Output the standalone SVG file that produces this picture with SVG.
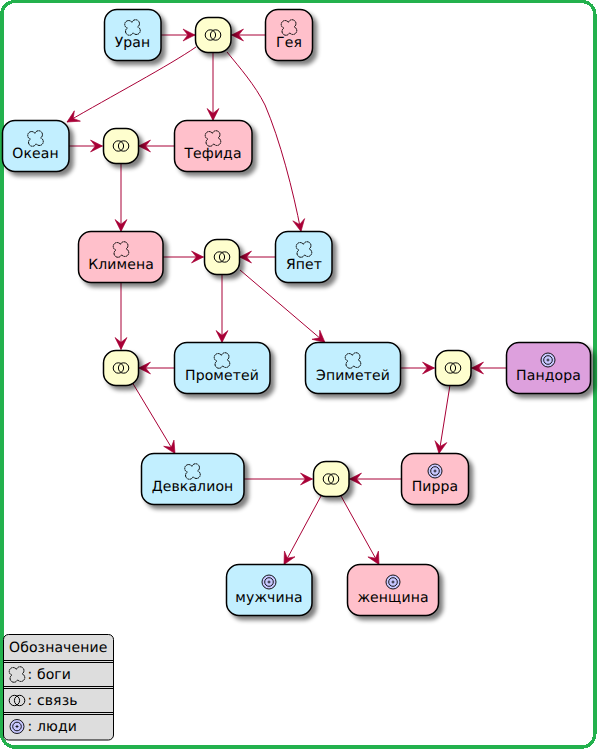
<svg xmlns="http://www.w3.org/2000/svg" width="598" height="749" viewBox="0 0 598 749">
<style>
text{font-family:"DejaVu Sans",sans-serif;font-size:14px;fill:#000;text-rendering:geometricPrecision;letter-spacing:.12px}
.n{stroke:#000;stroke-width:1.5;filter:url(#sh)}
.blue{fill:#C2EFFF}.pink{fill:#FFC0CB}.yel{fill:#FEFECE}.pur{fill:#DDA0DD}
.c path{fill:none;stroke:#A80036;stroke-width:1;marker-end:url(#ah)}
.i{fill:none;stroke:#000;stroke-width:1}
.lg{stroke:#000;stroke-width:1;fill:none}
</style>
<defs>
<filter id="sh" x="-20%" y="-20%" width="150%" height="150%"><feGaussianBlur in="SourceAlpha" stdDeviation="2"/><feOffset dx="4" dy="4"/><feComponentTransfer><feFuncA type="linear" slope="0.5"/></feComponentTransfer><feMerge><feMergeNode/><feMergeNode in="SourceGraphic"/></feMerge></filter>
<marker id="ah" markerUnits="userSpaceOnUse" markerWidth="12" markerHeight="12" refX="10" refY="5" orient="auto" viewBox="0 0 10 10" overflow="visible"><path d="M0 0L10 5L0 10L4 5Z" fill="#A80036" stroke="#A80036" stroke-width=".5"/></marker>
<g id="cloud"><path class="i" stroke-width=".9" stroke-dasharray="1.800 .4" d="M-.600-5.200A3.900 3.900 0 1 1 5.200-.600A3.900 3.900 0 1 1 .600 5.200A3.900 3.900 0 1 1-5.200 .600A3.900 3.900 0 1 1-.600-5.200Z"/></g>
<g id="rings"><circle class="i" cx="-2.600" r="5.200"/><circle class="i" cx="2.600" r="5.200"/></g>
<g id="target"><circle cx="0" cy="0" r="7" fill="#C8C8FF" stroke="#000" stroke-width=".9"/><circle cx="0" cy="0" r="4.300" fill="none" stroke="#000" stroke-width=".9"/><path d="M-1.500 0H1.500M0-1.500V1.500" stroke="#000" stroke-width=".8"/></g>
</defs>
<rect x="1.800" y="1.500" width="593" height="745.500" rx="13" fill="#fff" stroke="#23B14D" stroke-width="3.500" shape-rendering="crispEdges"/>
<g id="connectors" class="c">
<path d="M161 35H195"/><path d="M265 35H231.500"/>
<path d="M196 47C170 65 110 97 67 122"/>
<path d="M213 52V120.500"/>
<path d="M227 52C240 68 255 85 265 105C280 140 293 190 301 231.500"/>
<path d="M69 146H102.500"/><path d="M174 146H138.500"/>
<path d="M121 163V231.500"/>
<path d="M163 257H203.500"/><path d="M275 257H239.500"/>
<path d="M121 283V349.500"/>
<path d="M222 274V342.500"/>
<path d="M240 270L325 342.500"/>
<path d="M174 368H138.500"/>
<path d="M132 382L175 453.500"/>
<path d="M400 368H434.500"/><path d="M506 368H471.500"/>
<path d="M450 385L439 453.500"/>
<path d="M244 479H312.500"/><path d="M401 479H349.500"/>
<path d="M321 496L284 564.500"/>
<path d="M341 496L379 564.500"/>
</g>
<g id="uran"><rect class="n blue" x="104.500" y="9.500" width="56.500" height="51" rx="12.500"/><use href="#cloud" x="132.500" y="27.500"/><text x="132.500" y="47" text-anchor="middle">Уран</text></g>
<g id="j1"><rect class="n yel" x="195.500" y="17.500" width="35.500" height="35" rx="12.500"/><use href="#rings" x="213" y="35"/></g>
<g id="gaia"><rect class="n pink" x="265.500" y="9.500" width="47" height="51" rx="12.500"/><use href="#cloud" x="289" y="27.500"/><text x="289" y="47" text-anchor="middle">Гея</text></g>
<g id="okean"><rect class="n blue" x="2.500" y="120.500" width="66.500" height="51" rx="12.500"/><use href="#cloud" x="35.500" y="138.500"/><text x="35.500" y="158" text-anchor="middle">Океан</text></g>
<g id="j2"><rect class="n yel" x="103.500" y="128.500" width="35" height="35" rx="12.500"/><use href="#rings" x="121" y="146"/></g>
<g id="tefida"><rect class="n pink" x="174.500" y="120.500" width="77.500" height="51" rx="12.500"/><use href="#cloud" x="213" y="138.500"/><text x="213" y="158" text-anchor="middle">Тефида</text></g>
<g id="klimena"><rect class="n pink" x="78.500" y="231.500" width="84.500" height="51" rx="12.500"/><use href="#cloud" x="121" y="249.500"/><text x="121" y="269" text-anchor="middle">Климена</text></g>
<g id="j3"><rect class="n yel" x="204.500" y="239.500" width="35" height="35" rx="12.500"/><use href="#rings" x="222" y="257"/></g>
<g id="yapet"><rect class="n blue" x="275.500" y="231.500" width="56.500" height="51" rx="12.500"/><use href="#cloud" x="304" y="249.500"/><text x="304" y="269" text-anchor="middle">Япет</text></g>
<g id="j4"><rect class="n yel" x="103.500" y="350.500" width="35" height="35" rx="12.500"/><use href="#rings" x="121" y="368"/></g>
<g id="prometei"><rect class="n blue" x="174.500" y="342.500" width="95.500" height="51" rx="12.500"/><use href="#cloud" x="222" y="360.500"/><text x="222" y="380" text-anchor="middle">Прометей</text></g>
<g id="epimetei"><rect class="n blue" x="305.500" y="342.500" width="95" height="51" rx="12.500"/><use href="#cloud" x="353" y="360.500"/><text x="353" y="380" text-anchor="middle">Эпиметей</text></g>
<g id="j5"><rect class="n yel" x="435.500" y="350.500" width="35.500" height="35" rx="12.500"/><use href="#rings" x="453" y="368"/></g>
<g id="pandora"><rect class="n pur" x="506.500" y="342.500" width="84" height="51" rx="12.500"/><use href="#target" x="548" y="360"/><text x="548.500" y="380" text-anchor="middle">Пандора</text></g>
<g id="devkalion"><rect class="n blue" x="141.500" y="453.500" width="102.500" height="51" rx="12.500"/><use href="#cloud" x="192.500" y="471.500"/><text x="192.500" y="491" text-anchor="middle">Девкалион</text></g>
<g id="j6"><rect class="n yel" x="313.500" y="461.500" width="35.500" height="35" rx="12.500"/><use href="#rings" x="331" y="479"/></g>
<g id="pirra"><rect class="n pink" x="401.500" y="453.500" width="67" height="51" rx="12.500"/><use href="#target" x="435" y="471"/><text x="435" y="491" text-anchor="middle">Пирра</text></g>
<g id="man"><rect class="n blue" x="226.500" y="564.500" width="85.500" height="51" rx="12.500"/><use href="#target" x="269" y="582"/><text x="269" y="602" text-anchor="middle">мужчина</text></g>
<g id="woman"><rect class="n pink" x="347.500" y="564.500" width="91" height="51" rx="12.500"/><use href="#target" x="393" y="582"/><text x="393" y="602" text-anchor="middle">женщина</text></g>
<g id="legend">
<rect x="3.500" y="634.500" width="110" height="105.500" rx="5" fill="#DDDDDD" stroke="#000"/>
<text x="9" y="652">Обозначение</text>
<path class="lg" d="M3.500 660.500H113.500M3.500 662.500H113.500M3.500 686.500H113.500M3.500 688.500H113.500M3.500 712.500H113.500M3.500 714.500H113.500"/>
<use href="#cloud" x="17" y="674.500"/><text x="27.500" y="679">: боги</text>
<use href="#rings" x="17" y="700.500"/><text x="27.500" y="705">: связь</text>
<use href="#target" x="17" y="726.500"/><text x="27.500" y="731">: люди</text>
</g>
</svg>
